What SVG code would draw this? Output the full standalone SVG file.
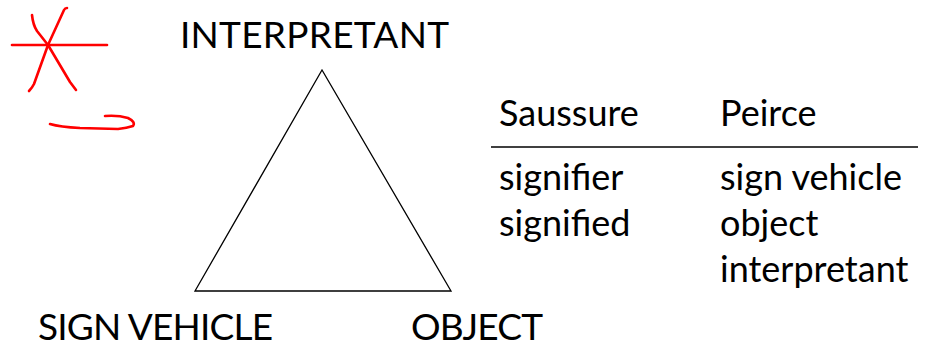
<svg xmlns="http://www.w3.org/2000/svg" width="934" height="349" viewBox="0 0 934 349">
<style>
text{font-family:Lato,"Open Sans","Liberation Sans",sans-serif;fill:#000}
.lbl{font-size:37px}
.tb{font-size:36px}
.ink{fill:none;stroke:#ff0000;stroke-width:2.6;stroke-linecap:round;stroke-linejoin:round}
</style>
<rect width="934" height="349" fill="#fff"/>
<g id="annotations">
<path class="ink" d="M12,45 L107,45"/>
<path class="ink" d="M32,15 Q33,25 37,31 L48,45 L70,82 Q73,86 76,90"/>
<path class="ink" d="M67,8 Q65,8 64,10 L48,45 L34,84 Q32,88 29,91"/>
<path class="ink" d="M50,124 Q60,127 80,128 L118,129 Q127,128 133,126 Q136,122 128,118 Q118,115 105,116"/>
</g>
<g id="connectors">
<path d="M322,70 L195,291 L451,291 Z" fill="none" stroke="#000" stroke-width="1.3"/>
</g>
<g id="interpretant"><text class="lbl" x="180" y="48" textLength="269">INTERPRETANT</text></g>
<g id="sign-vehicle"><text class="lbl" x="38" y="340" textLength="235">SIGN VEHICLE</text></g>
<g id="object"><text class="lbl" x="411" y="340" textLength="132">OBJECT</text></g>
<g id="table">
<text class="tb" x="499" y="126">Saussure</text>
<text class="tb" x="720" y="126">Peirce</text>
<line x1="491" y1="147" x2="918" y2="147" stroke="#000" stroke-width="1.3"/>
<text class="tb" x="499" y="190">signifier</text>
<text class="tb" x="499" y="236">signified</text>
<text class="tb" x="720" y="190">sign vehicle</text>
<text class="tb" x="720" y="236">object</text>
<text class="tb" x="720" y="282">interpretant</text>
</g>
</svg>
